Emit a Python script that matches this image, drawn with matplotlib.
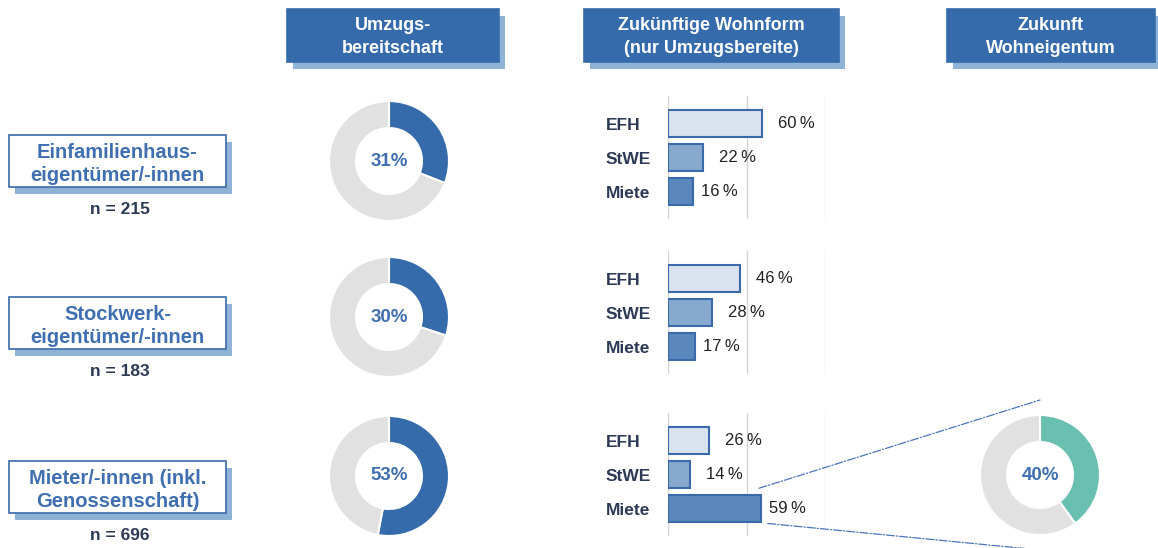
import matplotlib
matplotlib.use('Agg')
import matplotlib.pyplot as plt
from matplotlib.patches import Rectangle, ConnectionPatch

plt.rcParams['font.family'] = ['Liberation Sans', 'DejaVu Sans']

# data
groups = ['Einfamilienhaus-\neigentümer/-innen', 'Stockwerk-\neigentümer/-innen',
          'Mieter/-innen (inkl.\nGenossenschaft)']
n_sizes = [215, 183, 696]
umzug = [31, 30, 53]
forms = ['EFH', 'StWE', 'Miete']
efh = [60, 46, 26]
stwe = [22, 28, 14]
miete = [16, 17, 59]
eigentum = 40
headers = ['Umzugs-\nbereitschaft', 'Zukünftige Wohnform\n(nur Umzugsbereite)', 'Zukunft\nWohneigentum']

# colours
BLUE = '#366bab'
SHADOW = '#8fb3d6'
GREY = '#e2e1e2'
TEAL = '#69bfb0'
NAVY = '#2d3a56'
TXTBLUE = '#3f6fb0'
EDGE = '#3a6aa9'
bar_colors = ['#d9e3ef', '#87a8cf', '#5b88bc']

W, H = 1158, 548
fig = plt.figure(figsize=(W / 100, H / 100), dpi=100)


def px_axes(x, y, w, h):
    return fig.add_axes([x / W, 1 - (y + h) / H, w / W, h / H])


bg = px_axes(0, 0, W, H)
bg.set_xlim(0, W)
bg.set_ylim(H, 0)
bg.axis('off')


def box(x, y, w, h, face, edge):
    bg.add_patch(Rectangle((x + 6, y + 7), w, h, facecolor=SHADOW, lw=0))
    bg.add_patch(Rectangle((x, y), w, h, facecolor=face, edgecolor=edge, lw=1.2))


# column headers
for (x, w), txt in zip([(287, 212), (584, 255), (947, 208)], headers):
    box(x, 9, w, 53, BLUE, BLUE)
    bg.text(x + w / 2, 9 + 53 / 2 + 1.5, txt, ha='center', va='center', color='white',
            fontsize=13, fontweight='bold', linespacing=1.45)

# row labels
for y, txt, n in zip([135, 297, 461], groups, n_sizes):
    box(9, y, 217, 52, 'white', EDGE)
    bg.text(9 + 217 / 2, y + 29, txt, ha='center', va='center', color=TXTBLUE,
            fontsize=14.5, fontweight='bold', linespacing=1.3)
    bg.text(120, y + 75, 'n = %d' % n, ha='center', va='center', color=NAVY,
            fontsize=12.5, fontweight='bold')


def donut(cx, cy, value, color):
    ax = px_axes(cx - 60, cy - 60, 120, 120)
    ax.pie([value, 100 - value], colors=[color, GREY], startangle=90, counterclock=False,
           radius=1, wedgeprops=dict(width=0.45, edgecolor='white', linewidth=1.5))
    ax.set_xlim(-1, 1)
    ax.set_ylim(-1, 1)
    ax.set_aspect('equal')
    ax.axis('off')
    ax.text(0, 0, '%d%%' % value, ha='center', va='center', color=TXTBLUE,
            fontsize=13.5, fontweight='bold')
    return ax


# Umzugsbereitschaft donuts
for cy, v in zip([161, 317, 476], umzug):
    donut(389, cy, v, BLUE)

# Zukuenftige Wohnform bars
STEP = 34.2
bar_axes = []
for i, top in enumerate([96, 251, 413]):
    ax = px_axes(668, top, 157, 3.6 * STEP)
    vals = [efh[i], stwe[i], miete[i]]
    ax.barh(range(3), vals, height=0.8, color=bar_colors, edgecolor=EDGE, linewidth=1.5)
    ax.set_xlim(0, 100)
    ax.set_ylim(2.8, -0.8)
    ax.set_xticks([0, 50, 100])
    ax.set_yticks([])
    ax.grid(axis='x', color='#d4d4d4', lw=1)
    ax.set_axisbelow(True)
    ax.tick_params(length=0, labelbottom=False)
    for s in ax.spines.values():
        s.set_visible(False)
    for j, (lab, v) in enumerate(zip(forms, vals)):
        ax.text(-62 / 1.57, j + 0.05, lab, ha='left', va='center', color=NAVY,
                fontsize=12.5, fontweight='bold', clip_on=False)
        off = 5.8 if j == 2 else 11.5
        ax.annotate('%d\u2009%%' % v, (v, j), xytext=(off, 0), textcoords='offset points',
                    ha='left', va='center', fontsize=12, color='#222222',
                    annotation_clip=False)
    bar_axes.append(ax)

# Zukunft Wohneigentum donut
dax = donut(1040, 475, eigentum, TEAL)

# connector lines
for xyA, xyB in [((58, 1.4), (0, 1.25)), ((63.5, 2.43), (0, -1.25))]:
    con = ConnectionPatch(xyA=xyA, coordsA=bar_axes[2].transData,
                          xyB=xyB, coordsB=dax.transData,
                          color='#4d74b8', linestyle='-.', lw=0.9)
    fig.add_artist(con)

fig.savefig('out.png', dpi=100)
